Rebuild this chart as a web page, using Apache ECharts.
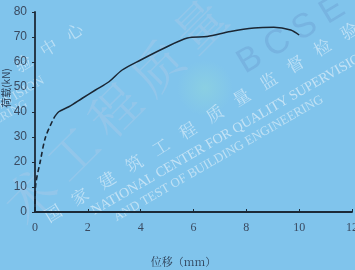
<!DOCTYPE html>
<html><head><meta charset="utf-8">
<script src="https://cdn.jsdelivr.net/npm/echarts@6/dist/echarts.min.js"></script>
<style>html,body{margin:0;padding:0;background:#80c4ec;}#c{width:355px;height:270px;}</style>
</head><body><div id="c"></div>
<script>
const xTicks = [0, 2, 4, 6, 8, 10, 12];
const yTicks = [0, 10, 20, 30, 40, 50, 60, 70, 80];
// initial steep (dashed) part
const dispRise = [0, 0.02, 0.21, 0.4, 0.71];
const loadRise = [0, 10.1, 20.8, 30, 37.5];
// main (solid) part
const dispMain = [0.71, 0.9, 1.28, 1.79, 2.29, 2.8, 3.3, 4.0, 4.88, 5.77, 6.52, 7.4, 8.29, 9.04, 9.68, 10.0];
const loadMain = [37.5, 40.1, 42.1, 45.5, 48.8, 52.1, 56.8, 60.8, 65.5, 69.6, 70.2, 72.2, 73.6, 73.9, 72.8, 70.8];

const chart = echarts.init(document.getElementById('c'), null, {renderer: 'canvas'});
const rad = a => a * Math.PI / 180;
const wmLine = (text, x, y, ang, size, color, font) => ({
  type: 'text', x, y, rotation: rad(ang), silent: true, z: 0,
  style: {text, fill: color, font: `${size}px ${font}`, textAlign: 'left', textVerticalAlign: 'bottom'}
});
const wmChars = (chars, x0, y0, ang, step, size, color, font) => chars.split('').map((ch, i) => ({
  type: 'text', silent: true, z: 0,
  x: x0 + i * step * Math.cos(rad(ang)), y: y0 - i * step * Math.sin(rad(ang)),
  rotation: rad(ang),
  style: {text: ch, fill: color, font: `${size}px ${font}`, textAlign: 'center', textVerticalAlign: 'middle'}
}));
const serifCJK = '"Noto Serif CJK SC", "Noto Sans CJK SC"';
chart.setOption({
  backgroundColor: '#80c4ec',
  animation: false,
  graphic: [
    {type: 'circle', silent: true, z: 0, shape: {cx: 205, cy: 88, r: 28},
     style: {fill: new echarts.graphic.RadialGradient(0.5, 0.5, 0.5, [
       {offset: 0, color: 'rgba(150,220,215,0.45)'}, {offset: 1, color: 'rgba(150,220,215,0)'}])}},
    ...wmChars('术工程质量', 30, 195, 45, 60, 50, 'rgba(245,215,230,0.15)', serifCJK),
    ...wmChars('国家建筑工程质量监督检验', 53, 213, 31.6, 31.6, 17, 'rgba(232,244,252,0.6)', serifCJK),
    ...wmChars('验中心', 23, 63, 31.6, 30, 17, 'rgba(232,244,252,0.55)', serifCJK),
    wmLine('NATIONAL CENTER FOR QUALITY SUPERVISION', 96, 218, 30, 14, 'rgba(240,247,252,0.6)', '"Liberation Serif"'),
    wmLine('AND TEST OF BUILDING ENGINEERING', 118, 224, 30, 13, 'rgba(240,247,252,0.55)', '"Liberation Serif"'),
    wmLine('SUPERVISION', -25, 128, 31, 13, 'rgba(240,247,252,0.5)', '"Liberation Serif"'),
    wmLine('ENGINEERING', -40, 150, 31, 12, 'rgba(240,247,252,0.45)', '"Liberation Serif"'),
    ...wmChars('BCSEI', 250, 60, 31, 32, 34, 'rgba(90,130,190,0.25)', '"Liberation Sans"'),
    {type: 'text', x: 6, y: 88, rotation: Math.PI / 2, silent: true, z: 1,
     style: {text: '荷载(kN)', fill: '#2c3e55', font: '10px "Noto Sans CJK SC"', textAlign: 'center', textVerticalAlign: 'middle'}}
  ],
  grid: {left: 35, right: 3, top: 12, bottom: 58, containLabel: false, outerBoundsMode: 'none'},
  xAxis: {
    type: 'value', min: 0, max: 12, interval: 2,
    name: '位移（mm）', nameLocation: 'middle', nameGap: 44,
    nameTextStyle: {color: '#2c3e55', fontSize: 11, fontFamily: serifCJK, padding: [0, 20, 0, 0]},
    axisLine: {show: true, lineStyle: {color: '#1c2a38', width: 1.8}},
    axisTick: {show: true, inside: true, length: 3, lineStyle: {color: '#1c2a38'}},
    axisLabel: {color: '#3a4a60', fontSize: 12, fontFamily: '"Liberation Serif"', margin: 10,
      formatter: v => xTicks.includes(v) ? String(v) : ''},
    splitLine: {show: false}
  },
  yAxis: {
    type: 'value', min: 0, max: 80, interval: 10,
    axisLine: {show: true, lineStyle: {color: '#1c2a38', width: 1.8}},
    axisTick: {show: true, inside: false, length: 3, lineStyle: {color: '#1c2a38'}},
    axisLabel: {color: '#3a4a60', fontSize: 12, fontFamily: '"Liberation Sans"', margin: 8,
      formatter: v => yTicks.includes(v) ? String(v) : ''},
    splitLine: {show: false}
  },
  series: [
    {type: 'line', data: dispRise.map((d, i) => [d, loadRise[i]]), smooth: 0.3, symbol: 'none',
     lineStyle: {color: '#1a2633', width: 1.6, type: [5, 3]}, z: 3},
    {type: 'line', data: dispMain.map((d, i) => [d, loadMain[i]]), smooth: 0.3, symbol: 'none',
     lineStyle: {color: '#1a2633', width: 1.5}, z: 3}
  ]
});
</script></body></html>
